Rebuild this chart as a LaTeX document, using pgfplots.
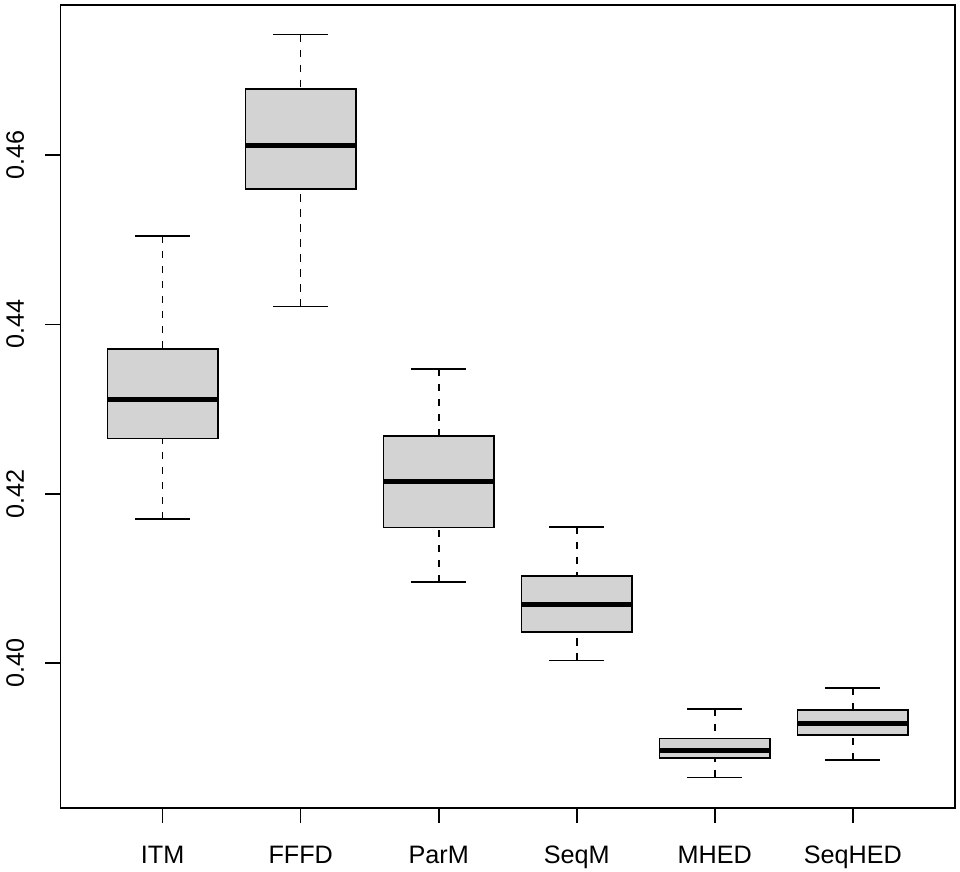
\documentclass[border=0pt]{standalone}
\usepackage{fontspec}
\setmainfont{Liberation Sans}
\usepackage{pgfplots}
\pgfplotsset{compat=1.18}
\definecolor{boxgray}{RGB}{211,211,211}

% one box: position, lower whisker, lower quartile, median, upper quartile, upper whisker
\newcommand\bx[6]{%
  \pgfmathsetmacro\bl{#1-0.4}\pgfmathsetmacro\br{#1+0.4}%
  \pgfmathsetmacro\cl{#1-0.2}\pgfmathsetmacro\cr{#1+0.2}%
  \addplot[fill=boxgray] coordinates {(\bl,#3) (\br,#3) (\br,#5) (\bl,#5)} -- cycle;
  \addplot[line width=2.4pt] coordinates {(\bl,#4) (\br,#4)};
  \addplot[whisk] coordinates {(#1,#2) (#1,#3)};
  \addplot[whisk] coordinates {(#1,#6) (#1,#5)};
  \addplot[solid] coordinates {(\cl,#2) (\cr,#2)};
  \addplot[solid] coordinates {(\cl,#6) (\cr,#6)};
}

\begin{document}
\begin{tikzpicture}
  \begin{axis}[
      scale only axis,
      width=447.25pt, height=401.5pt,
      xmin=0.26, xmax=6.74,
      ymin=0.3829, ymax=0.4777,
      xtick={1,2,3,4,5,6},
      xticklabels={ITM,FFFD,ParM,SeqM,MHED,SeqHED},
      ytick={0.40,0.42,0.44,0.46},
      yticklabels={0.40,0.42,0.44,0.46},
      scaled y ticks=false,
      xtick pos=left, ytick pos=left,
      tick align=outside,
      major tick length=7.5pt,
      minor tick num=0,
      tick style={black, line width=0.8pt},
      axis line style={line width=0.9pt},
      tick label style={font=\fontsize{12.6}{15}\selectfont},
      xticklabel style={anchor=base},
      xticklabel shift=20.5pt,
      yticklabel style={rotate=90, anchor=base},
      yticklabel shift=10.75pt,
      every axis plot/.append style={draw=black, line width=0.8pt, mark=none},
      whisk/.style={dash pattern=on 3.6pt off 3.9pt},
    ]
    \bx{1}{0.4170}{0.4265}{0.4311}{0.4371}{0.4504} % ITM
    \bx{2}{0.4421}{0.4560}{0.4611}{0.4678}{0.4742} % FFFD
    \bx{3}{0.4096}{0.4160}{0.4214}{0.4268}{0.4347} % ParM
    \bx{4}{0.4003}{0.4037}{0.4069}{0.4103}{0.4161} % SeqM
    \bx{5}{0.3865}{0.3888}{0.3897}{0.3911}{0.3946} % MHED
    \bx{6}{0.3886}{0.3915}{0.3929}{0.3945}{0.3971} % SeqHED
  \end{axis}
  \pgfresetboundingbox
  \path ([shift={(-30.25pt,-32pt)}]current axis.south west)
    rectangle ([shift={(2.5pt,2.5pt)}]current axis.north east);
\end{tikzpicture}
\end{document}
